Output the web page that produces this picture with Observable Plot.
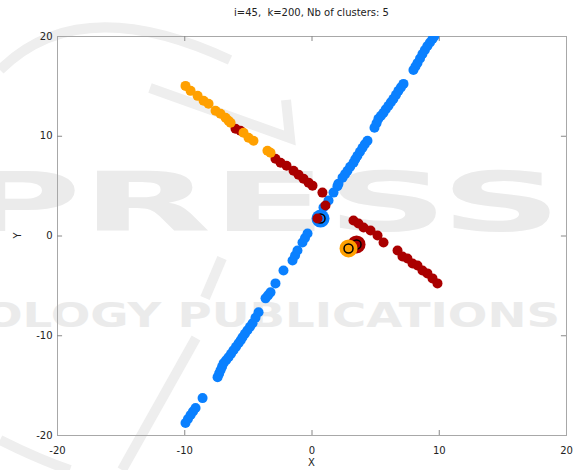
<!DOCTYPE html>
<html>
<head>
<meta charset="utf-8">
<script src="https://cdn.jsdelivr.net/npm/d3@7"></script>
<script src="https://cdn.jsdelivr.net/npm/@observablehq/plot@0.6"></script>
<style>
  html, body { margin: 0; padding: 0; background: #fff; }
  #wrap { position: relative; width: 578px; height: 470px; overflow: hidden; font-family: "DejaVu Sans", sans-serif; }
  #wm { position: absolute; left: 0; top: 0; z-index: 0; }
  #title { position: absolute; left: 57px; width: 509px; top: 7px; text-align: center; font-size: 10px; color: #222; z-index: 2; white-space: pre; }
  #chart { position: absolute; left: 0; top: 28px; z-index: 1; }
  #xlab { position: absolute; left: 57px; width: 509px; top: 457px; text-align: center; font-size: 10px; color: #222; z-index: 2; }
  #ylab { position: absolute; left: 14px; top: 230px; font-size: 10px; color: #222; transform: rotate(-90deg); z-index: 2; }
</style>
</head>
<body>
<div id="wrap">
  <svg id="wm" width="578" height="470">
    <g fill="#ebebeb" font-family="DejaVu Sans" font-weight="bold">
      <text x="-42" y="231" font-size="82" textLength="604" lengthAdjust="spacingAndGlyphs">PRESS</text>
      <text x="-17" y="327" font-size="34" textLength="577" lengthAdjust="spacingAndGlyphs">OLOGY PUBLICATIONS</text>
    </g>
    <g fill="none" stroke="#eeeeee" stroke-width="10">
      <path d="M0,70 Q80,-10 230,60"/>
      <path d="M150,88 L290,138 L286,100"/>
      <path d="M222,258 L205,298"/>
      <path d="M196,338 L122,470"/>
      <path d="M0,440 Q40,460 70,470"/>
    </g>
  </svg>
  <div id="title">i=45,  k=200, Nb of clusters: 5</div>
  <div id="chart"></div>
  <div id="xlab">X</div>
  <div id="ylab">Y</div>
</div>
<script>
// ---- data ----
const xTicks = [-20, -10, 0, 10, 20];
const yTicks = [-20, -10, 0, 10, 20];
const clusterNames = ["c1", "c2", "c3"];

const blueX = [-9.94,-9.75,-9.54,-9.35,-9.15,-8.60,-7.42,-7.30,-7.19,-7.07,-6.95,-6.75,-6.56,-6.36,-6.17,-5.97,-5.77,-5.60,-5.46,-5.27,-5.07,-4.87,-4.67,-4.44,-4.20,-3.65,-3.45,-3.26,-2.87,-2.24,-1.53,-1.33,-1.14,-0.75,-0.55,-0.35,0.90,1.30,1.69,2.00,2.08,2.40,2.60,2.79,3.00,3.26,3.40,3.57,3.77,3.97,4.15,4.36,4.91,5.07,5.22,5.42,5.62,5.80,6.01,6.20,6.40,6.60,6.79,6.99,7.19,7.97,8.13,8.29,8.49,8.68,8.87,9.07,9.27,9.47,9.60];
const blueY = [-18.75,-18.35,-17.95,-17.60,-17.25,-16.25,-14.15,-13.80,-13.45,-13.10,-12.75,-12.45,-12.15,-11.80,-11.45,-11.10,-10.75,-10.45,-10.15,-9.80,-9.45,-9.10,-8.75,-8.20,-7.65,-6.25,-5.95,-5.65,-4.75,-3.45,-2.45,-1.95,-1.45,-0.65,-0.20,0.25,2.85,3.55,4.35,5.00,5.25,5.85,6.20,6.55,6.95,7.35,7.70,8.05,8.45,8.85,9.20,9.55,10.85,11.30,11.75,12.05,12.35,12.70,13.05,13.40,13.75,14.15,14.55,14.90,15.25,16.65,17.00,17.35,17.80,18.25,18.65,19.05,19.40,19.75,20.00];

const redX = [-6.01,-5.62,-2.87,-2.47,-2.00,-1.45,-1.06,-0.67,-0.27,0.04,0.82,1.06,0.43,3.26,3.65,4.05,4.60,5.15,5.62,6.72,7.11,7.50,7.90,8.29,8.68,9.07,9.47,9.86];
const redY = [10.75,10.55,7.75,7.35,7.05,6.55,6.15,5.75,5.35,5.05,4.35,3.05,1.75,1.55,1.25,0.85,0.55,0.05,-0.65,-1.45,-2.05,-2.25,-2.75,-2.95,-3.45,-3.75,-4.25,-4.75];

const orangeX = [-9.94,-9.54,-8.99,-8.52,-8.13,-7.58,-7.19,-6.79,-6.56,-6.40,-5.38,-4.99,-4.60,-3.50,-3.26];
const orangeY = [15.05,14.55,14.05,13.55,13.25,12.55,12.25,11.85,11.55,11.35,10.35,9.85,9.55,8.55,8.35];

// cluster centroids (blue, red, orange)
const centX = [0.67, 3.50, 2.87];
const centY = [1.75, -0.85, -1.25];

// ---- build ----
const colors = ["#0a80ff", "#aa0000", "#ffa000"];
const pts = (xs, ys, c) => xs.map((x, i) => ({x, y: ys[i], c}));
const blue = pts(blueX, blueY, clusterNames[0]);
const red = pts(redX, redY, clusterNames[1]);
const orange = pts(orangeX, orangeY, clusterNames[2]);
const cents = centX.map((x, i) => ({x, y: centY[i], c: clusterNames[i]}));

const fmt = d => String(d);
const tickStyle = {stroke: "#888", strokeWidth: 1};
const plot = Plot.plot({
  width: 578,
  height: 442,
  marginTop: 8,
  marginLeft: 57,
  marginRight: 12,
  marginBottom: 35,
  x: {domain: [-20, 20]},
  y: {domain: [-20, 20]},
  color: {domain: clusterNames, range: colors},
  style: {fontFamily: "DejaVu Sans", fontSize: "10px", background: "transparent", color: "#222"},
  marks: [
    Plot.frame({stroke: "#a8a8a8"}),
    Plot.ruleX(xTicks.slice(1, -1), {y1: -20, y2: -19.5, ...tickStyle}),
    Plot.ruleX(xTicks.slice(1, -1), {y1: 20, y2: 19.5, ...tickStyle}),
    Plot.ruleY(yTicks.slice(1, -1), {x1: -20, x2: -19.6, ...tickStyle}),
    Plot.ruleY(yTicks.slice(1, -1), {x1: 20, x2: 19.6, ...tickStyle}),
    Plot.axisX({ticks: xTicks, tickFormat: fmt, tickSize: 0, tickPadding: 11, label: null, fill: "#222"}),
    Plot.axisY({ticks: yTicks, tickFormat: fmt, tickSize: 0, tickPadding: 5, label: null, fill: "#222"}),
    Plot.dot(blue, {x: "x", y: "y", r: 5, fill: "c", clip: "frame"}),
    Plot.dot(cents.slice(0, 1), {x: "x", y: "y", r: 9, fill: "c"}),
    Plot.dot(cents.slice(0, 1), {x: "x", y: "y", r: 4.5, stroke: "#000", strokeWidth: 1.5}),
    Plot.dot(red, {x: "x", y: "y", r: 5, fill: "c"}),
    Plot.dot(cents.slice(1, 2), {x: "x", y: "y", r: 9, fill: "c"}),
    Plot.dot(cents.slice(1, 2), {x: "x", y: "y", r: 4.5, stroke: "#000", strokeWidth: 1.5}),
    Plot.dot(orange, {x: "x", y: "y", r: 5, fill: "c"}),
    Plot.dot(cents.slice(2, 3), {x: "x", y: "y", r: 9, fill: "c"}),
    Plot.dot(cents.slice(2, 3), {x: "x", y: "y", r: 4.5, stroke: "#000", strokeWidth: 1.5})
  ]
});
document.getElementById("chart").appendChild(plot);
</script>
</body>
</html>
